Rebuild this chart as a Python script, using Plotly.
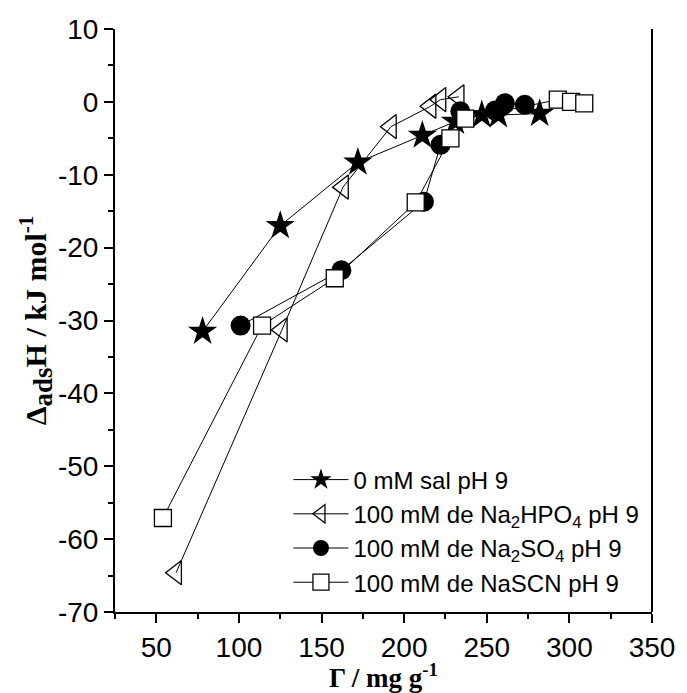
import plotly.graph_objects as go

# Adsorption enthalpy vs. adsorbed amount, one series per salt condition
gamma_sal0 = [78, 125, 172, 211, 231, 247, 257, 282]
dh_sal0 = [-31.5, -17.0, -8.3, -4.6, -2.7, -1.8, -1.8, -1.6]

gamma_hpo4 = [62, 126, 163, 192, 216, 222, 233]
dh_hpo4 = [-64.6, -31.3, -11.7, -3.4, -0.6, 0.3, 0.7]

gamma_so4 = [101, 162, 212, 222, 234, 255, 261, 273]
dh_so4 = [-30.7, -23.1, -13.7, -5.9, -1.3, -1.2, -0.2, -0.4]

gamma_scn = [54, 114, 158, 207, 228, 237, 293, 301, 309]
dh_scn = [-57.1, -30.7, -24.2, -13.8, -5.0, -2.3, 0.3, 0.0, -0.2]

names = [
    "0 mM sal pH 9",
    "100 mM de Na<sub>2</sub>HPO<sub>4</sub> pH 9",
    "100 mM de Na<sub>2</sub>SO<sub>4</sub> pH 9",
    "100 mM de NaSCN pH 9",
]

x_ticks = [50, 100, 150, 200, 250, 300, 350]
y_ticks = [-70, -60, -50, -40, -30, -20, -10, 0, 10]
y_ticktext = ["-70", "-60", "-50", "-40", "-30", "-20", "-10", "0", "10"]

fig = go.Figure()

styles = [
    (gamma_sal0, dh_sal0, dict(symbol="star", size=22, color="black",
                               line=dict(color="black", width=0))),
    (gamma_hpo4, dh_hpo4, dict(symbol="triangle-left-open", size=21, color="black",
                               line=dict(color="black", width=1.3))),
    (gamma_so4, dh_so4, dict(symbol="circle", size=20, color="black",
                             line=dict(color="black", width=0))),
    (gamma_scn, dh_scn, dict(symbol="square", size=17, color="white",
                             line=dict(color="black", width=1.3))),
]

for i, (xs, ys, mk) in enumerate(styles):
    fig.add_trace(go.Scatter(
        x=xs, y=ys, mode="lines+markers", name=names[i],
        line=dict(color="black", width=1),
        marker=mk,
    ))

# right-hand frame line (no top line)
fig.add_shape(type="line", xref="paper", yref="paper", x0=1, x1=1, y0=0, y1=1,
              line=dict(color="black", width=2))

axis_font = dict(family="Liberation Sans, Arial", size=28, color="black")
xtitle_font = dict(family="Liberation Serif, Times New Roman", size=27, color="black")
ytitle_font = dict(family="Liberation Serif, Times New Roman", size=30, color="black")

fig.update_layout(
    width=687, height=693,
    margin=dict(l=115, r=27, t=29, b=80),
    plot_bgcolor="white", paper_bgcolor="white",
    showlegend=True,
    legend=dict(
        x=0.323, y=0.265, xanchor="left", yanchor="top",
        font=dict(family="Liberation Sans, Arial", size=24, color="black"),
        bgcolor="rgba(0,0,0,0)", itemwidth=55,
    ),
    xaxis=dict(
        range=[25, 350], tickmode="array", tickvals=x_ticks,
        showline=True, linecolor="black", linewidth=2, mirror=False,
        ticks="outside", ticklen=9, tickwidth=2, tickcolor="black",
        minor=dict(dtick=25, tick0=25, ticks="outside", ticklen=5, tickwidth=2,
                   tickcolor="black", showgrid=False),
        showgrid=False, zeroline=False, tickfont=axis_font,
        title=dict(text="<b>Γ / mg g<sup>-1</sup></b>", font=xtitle_font, standoff=0),
    ),
    yaxis=dict(
        range=[-70, 10], tickmode="array", tickvals=y_ticks, ticktext=y_ticktext,
        showline=True, linecolor="black", linewidth=2, mirror=False,
        ticks="outside", ticklen=9, tickwidth=2, tickcolor="black",
        minor=dict(dtick=5, tick0=0, ticks="outside", ticklen=5, tickwidth=2,
                   tickcolor="black", showgrid=False),
        showgrid=False, zeroline=False, tickfont=axis_font,
        title=dict(text="<b>Δ<sub><span style=\"font-size:27px\">ads</span></sub>H / kJ mol<sup>-1</sup></b>",
                   font=ytitle_font, standoff=2),
    ),
)

fig.write_html("out.html")
